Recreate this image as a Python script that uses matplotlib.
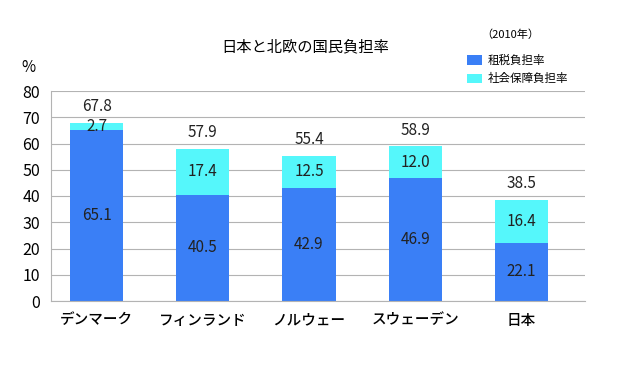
import numpy as np
import matplotlib
matplotlib.use("Agg")
import matplotlib.pyplot as plt

plt.rcParams['font.family'] = ['Noto Sans CJK JP', 'DejaVu Sans']

countries = ["デンマーク", "フィンランド", "ノルウェー", "スウェーデン", "日本"]
tax = [65.1, 40.5, 42.9, 46.9, 22.1]
social = [2.7, 17.4, 12.5, 12.0, 16.4]
total = [67.8, 57.9, 55.4, 58.9, 38.5]

BLUE = "#3a7ff6"
CYAN = "#55f7fb"
GRID = "#b3b3b3"


def main():
    fig = plt.figure(figsize=(6.2, 3.78), dpi=100)
    ax = fig.add_axes([51 / 620, 1 - 301 / 378, 534 / 620, 210 / 378])

    x = np.arange(len(countries))
    ax.bar(x, tax, width=0.5, color=BLUE, zorder=2, label="租税負担率")
    ax.bar(x, social, width=0.5, bottom=tax, color=CYAN, zorder=2,
           label="社会保障負担率")

    for i in range(len(countries)):
        ax.text(x[i], tax[i] / 2, f"{tax[i]:.1f}", ha="center", va="center",
                fontsize=11, color="#222222", zorder=3)
        ax.text(x[i], tax[i] + social[i] / 2, f"{social[i]:.1f}", ha="center",
                va="center", fontsize=11, color="#222222", zorder=3)
        ax.text(x[i], total[i] + 3.0, f"{total[i]:.1f}", ha="center",
                va="bottom", fontsize=11, color="#222222", zorder=3)

    ax.set_xlim(-0.43, 4.6)
    ax.set_ylim(0, 80)
    ax.set_yticks(range(0, 81, 10))
    ax.set_xticks(x)
    ax.set_xticklabels(countries, fontsize=10.5, fontweight="medium")
    ax.tick_params(axis="x", length=0, pad=9)
    ax.tick_params(axis="y", length=0, pad=8, labelsize=11.5)
    ax.yaxis.grid(True, color=GRID, linewidth=0.8, zorder=1)
    for s in ["top", "right"]:
        ax.spines[s].set_visible(False)
    for s in ["left", "bottom"]:
        ax.spines[s].set_color(GRID)
        ax.spines[s].set_linewidth(0.8)

    fig.text(305 / 620, 1 - 47 / 378, "日本と北欧の国民負担率", ha="center",
             va="center", fontsize=11)
    fig.text(28 / 620, 1 - 68 / 378, "%", ha="center", va="center", fontsize=11)
    fig.text(510 / 620, 1 - 35 / 378, "（2010年）", ha="center", va="center",
             fontsize=8)

    ax.legend(loc="upper left", bbox_to_anchor=(467 / 620, 1 - 54 / 378),
              bbox_transform=fig.transFigure, frameon=False, fontsize=8.3,
              handlelength=1.3, handleheight=0.87, handletextpad=0.5,
              labelspacing=0.45, borderpad=0, borderaxespad=0)

    fig.savefig("out.png", dpi=100, facecolor="white")


if __name__ == "__main__":
    main()
